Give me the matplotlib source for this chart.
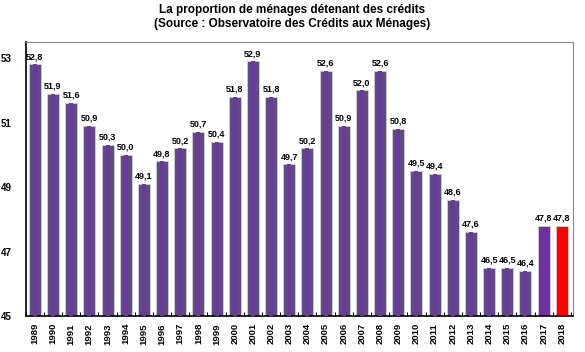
import matplotlib.pyplot as plt
import numpy as np

plt.rcParams['font.family'] = ['Liberation Sans', 'DejaVu Sans']

years = [str(y) for y in range(1989, 2019)]
values = [52.8, 51.9, 51.6, 50.9, 50.3, 50.0, 49.1, 49.8, 50.2, 50.7,
          50.4, 51.8, 52.9, 51.8, 49.7, 50.2, 52.6, 50.9, 52.0, 52.6,
          50.8, 49.5, 49.4, 48.6, 47.6, 46.5, 46.5, 46.4, 47.8, 47.8]
labels = [f"{v:.1f}".replace(".", ",") for v in values]

colors = ["#5f4a85"] * len(values)
colors[-2] = "#7030a0"
colors[-1] = "#ff0000"

fig = plt.figure(figsize=(5.85, 3.52), dpi=100)
ax = fig.add_axes([0.044, 0.102, 0.935, 0.779])

x = np.arange(len(values))
base = 45
bars = ax.bar(x, np.array(values) - base, bottom=base, width=0.66, color=colors,
              edgecolor="#d8d8d8", linewidth=0.5, zorder=2)
# lighter inner stripe like the original gradient
ax.bar(x[:-2], np.array(values[:-2]) - base, bottom=base, width=0.22,
       color="#6a3a9a", linewidth=0, zorder=3)

for xi, v, lab in zip(x, values, labels):
    ax.text(xi, v + 0.1, lab, ha="center", va="bottom", fontsize=6.5,
            fontweight="bold", color="black")

ax.set_xlim(-0.5, 29.6)
ax.set_ylim(45, 53.5)
ax.set_yticks([45, 47, 49, 51, 53])
ax.set_yticklabels(["45", "47", "49", "51", "53"], fontsize=7, fontweight="bold")
ax.tick_params(axis="y", length=0, pad=10)

ax.set_xticks(x)
ax.set_xticklabels(years, rotation=90, fontsize=6.8, fontweight="bold")
ax.tick_params(axis="x", which="major", length=0, pad=5)
ax.set_xticks(np.arange(-0.5, 29.6, 1), minor=True)
ax.tick_params(axis="x", which="minor", length=3, direction="in", width=0.8)

for side in ["top", "right"]:
    ax.spines[side].set_color("#888888")
    ax.spines[side].set_linewidth(0.8)
ax.spines["left"].set_linewidth(1.2)
ax.spines["bottom"].set_linewidth(1.2)

fig.suptitle("La proportion de ménages détenant des crédits\n(Source : Observatoire des Crédits aux Ménages)",
             y=0.99, fontsize=8.5, fontweight="bold", linespacing=1.25)

fig.savefig("out.png", dpi=100)
